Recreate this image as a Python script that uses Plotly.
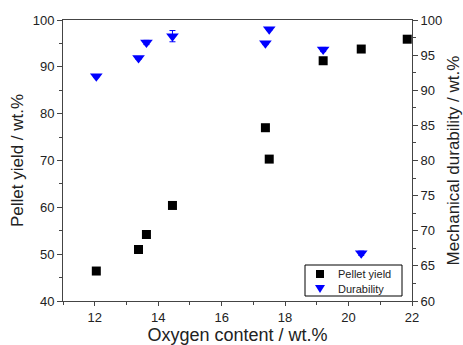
import plotly.graph_objects as go

oxygen_yield = [12.05, 13.38, 13.63, 14.45, 17.38, 17.5, 19.2, 20.4, 21.85]
pellet_yield = [46.4, 51.0, 54.2, 60.4, 77.0, 70.3, 91.3, 93.8, 95.9]

oxygen_dur = [12.05, 13.38, 13.63, 14.45, 17.38, 17.5, 19.2, 20.4]
durability = [92.0, 94.6, 96.8, 97.7, 96.7, 98.7, 95.8, 66.8]
durability_err = [0.2, 0.2, 0.3, 0.8, 0.2, 0.2, 0.3, 0.3]

legend_labels = ["Pellet yield", "Durability"]

font = "Liberation Sans, Arial, sans-serif"
axcol = "#444444"

fig = go.Figure()
fig.add_trace(go.Scatter(
    x=oxygen_yield, y=pellet_yield, mode="markers", name=legend_labels[0],
    marker=dict(symbol="square", size=9, color="black"),
    yaxis="y", showlegend=False,
))
fig.add_trace(go.Scatter(
    x=oxygen_dur, y=durability, mode="markers", name=legend_labels[1],
    marker=dict(symbol="triangle-down", size=11, color="#0000ff"),
    error_y=dict(type="data", array=durability_err, color="#0000ff", thickness=1, width=3),
    yaxis="y2", showlegend=False,
))

# custom compact legend (box, swatches, labels) in paper coordinates
W, H = 349.0, 281.0
def px(x):
    return (x - 63) / W
def py(y):
    return (301 - y) / H

shapes = [
    dict(type="rect", xref="paper", yref="paper", x0=px(305), x1=px(402), y0=py(296), y1=py(265),
         line=dict(color="black", width=1), fillcolor="white", layer="above"),
    dict(type="rect", xref="paper", yref="paper", x0=px(316), x1=px(324), y0=py(278), y1=py(270),
         line=dict(width=0), fillcolor="black", layer="above"),
    dict(type="path", xref="paper", yref="paper",
         path=f"M {px(315)} {py(285)} L {px(325)} {py(285)} L {px(320)} {py(293)} Z",
         line=dict(width=0), fillcolor="#0000ff", layer="above"),
]
annotations = [
    dict(text=legend_labels[0], xref="paper", yref="paper", x=px(336), y=py(274),
         xanchor="left", yanchor="middle", showarrow=False, font=dict(size=11, color="#222222")),
    dict(text=legend_labels[1], xref="paper", yref="paper", x=px(336), y=py(289),
         xanchor="left", yanchor="middle", showarrow=False, font=dict(size=11, color="#222222")),
]

fig.update_layout(
    width=463, height=345,
    margin=dict(l=63, r=51, t=20, b=44),
    plot_bgcolor="white", paper_bgcolor="white",
    font=dict(family=font, color="#222222", size=13),
    showlegend=False,
    shapes=shapes, annotations=annotations,
    xaxis=dict(
        range=[11, 22], tick0=12, dtick=2, showgrid=False, zeroline=False,
        showline=True, linecolor=axcol, linewidth=1, mirror=True,
        ticks="outside", ticklen=4, tickcolor=axcol, automargin=False,
        minor=dict(ticks="outside", dtick=1, tick0=11, ticklen=3, tickcolor=axcol),
        tickfont=dict(size=13),
        title=dict(text="Oxygen content / wt.%", font=dict(size=18), standoff=7),
    ),
    yaxis=dict(
        range=[40, 100], dtick=10, showgrid=False, zeroline=False,
        showline=True, linecolor=axcol, linewidth=1, automargin=False,
        ticks="outside", ticklen=5, tickcolor=axcol,
        minor=dict(ticks="outside", dtick=5, ticklen=3, tickcolor=axcol),
        tickfont=dict(size=13),
        title=dict(text="Pellet yield / wt.%", font=dict(size=17), standoff=4),
    ),
    yaxis2=dict(
        range=[60, 100], dtick=5, overlaying="y", side="right",
        showgrid=False, zeroline=False, automargin=False,
        showline=True, linecolor=axcol, linewidth=1,
        ticks="outside", ticklen=5, tickcolor=axcol,
        minor=dict(ticks="outside", dtick=2.5, ticklen=3, tickcolor=axcol),
        tickfont=dict(size=13),
        title=dict(text="Mechanical durability / wt.%", font=dict(size=17), standoff=6),
    ),
)

fig.write_html("out.html")
